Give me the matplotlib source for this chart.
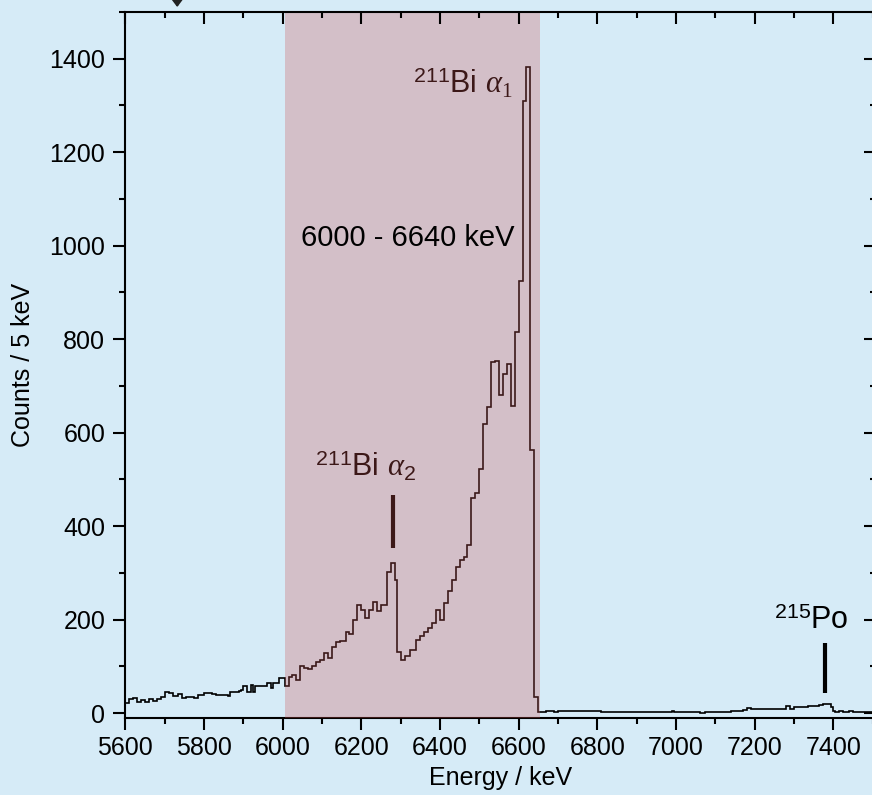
import matplotlib
matplotlib.use("Agg")
import matplotlib.pyplot as plt
import numpy as np
from matplotlib.ticker import MultipleLocator

plt.rcParams['font.family'] = ['Liberation Sans', 'DejaVu Sans']
plt.rcParams['mathtext.fontset'] = 'custom'
plt.rcParams['mathtext.rm'] = 'Liberation Serif'
plt.rcParams['mathtext.it'] = 'Liberation Serif:italic'
plt.rcParams['mathtext.sf'] = 'Liberation Sans'

# spectrum, 5 keV bins starting at 5600 keV (one row = 100 keV)
bin_start = 5600
bin_width = 5
counts = [
    21, 21, 30, 30, 33, 33, 24, 24, 28, 28, 24, 24, 31, 31, 25, 25, 31, 31, 35, 35,
    46, 46, 43, 43, 37, 37, 37, 40, 40, 32, 32, 35, 35, 34, 34, 32, 32, 38, 38, 38,
    42, 42, 42, 42, 40, 40, 39, 39, 39, 39, 38, 38, 37, 46, 46, 46, 46, 46, 48, 50,
    57, 57, 46, 46, 60, 46, 57, 57, 57, 57, 58, 58, 65, 65, 53, 64, 64, 64, 75, 75,
    75, 57, 57, 78, 78, 82, 82, 71, 71, 100, 100, 97, 97, 95, 95, 100, 100, 110, 110, 113,
    113, 128, 128, 118, 118, 142, 142, 153, 153, 155, 155, 155, 174, 174, 169, 169, 199, 199, 231, 231,
    220, 220, 203, 203, 220, 220, 238, 238, 218, 218, 231, 231, 231, 302, 302, 320, 320, 285, 131, 131,
    114, 114, 121, 121, 121, 135, 135, 135, 156, 156, 164, 164, 174, 174, 182, 182, 193, 193, 221, 221,
    199, 199, 235, 235, 260, 260, 285, 285, 313, 313, 327, 327, 334, 334, 359, 359, 459, 459, 470, 470,
    523, 523, 619, 619, 655, 655, 751, 751, 754, 754, 680, 680, 725, 725, 747, 747, 656, 656, 815, 815,
    925, 925, 1309, 1309, 1382, 1382, 562, 562, 35, 35, 3, 2, 2, 2, 5, 5, 5, 5, 3, 3,
    4, 4, 5, 5, 4, 4, 5, 5, 5, 5, 5, 5, 5, 5, 5, 5, 5, 5, 5, 5,
    4, 4, 3, 3, 2, 2, 2, 2, 2, 3, 3, 2, 2, 2, 2, 2, 2, 2, 2, 2,
    2, 2, 2, 2, 2, 2, 2, 2, 2, 2, 2, 2, 2, 2, 2, 2, 2, 3, 4, 3,
    3, 3, 3, 2, 3, 3, 2, 2, 2, 2, 2, 2, 1, 1, 1, 2, 2, 2, 2, 2,
    2, 3, 3, 3, 3, 3, 3, 3, 4, 4, 5, 5, 5, 5, 6, 6, 10, 10, 9, 9,
    9, 9, 9, 9, 9, 9, 9, 9, 9, 9, 9, 9, 9, 9, 9, 9, 16, 16, 9, 9,
    13, 13, 13, 13, 13, 13, 13, 15, 15, 15, 15, 15, 15, 18, 18, 19, 19, 20, 20, 12,
    5, 3, 3, 4, 4, 3, 3, 3, 4, 4, 3, 3, 2, 2, 3, 3, 2, 2, 3, 3,
    3, 3,
]
edges = bin_start + bin_width * np.arange(len(counts) + 1)

roi = [6005, 6655]
roi_label = "6000 - 6640 keV"

peak_labels = [r'$^{\mathsf{211}}$Bi $\alpha_1$', r'$^{\mathsf{211}}$Bi $\alpha_{\mathsf{2}}$', r'$^{\mathsf{215}}$Po']
peak_label_x = [6586, 6210, 7344]
peak_label_y = [1325, 505, 180]
peak_label_ha = ['right', 'center', 'center']
marker_x = [6280, 7378]
marker_lo = [354, 43]
marker_hi = [466, 150]

bg = '#D6EBF7'

fig = plt.figure(figsize=(8.72, 7.95), dpi=100, facecolor=bg)
ax = fig.add_axes([0.1437, 0.0972, 0.861, 0.888], facecolor=bg)

ax.stairs(counts, edges, baseline=None, color='black', lw=1.2, zorder=2)
ax.axvspan(roi[0], roi[1], color='#CF5656', alpha=0.29, lw=0, zorder=3)

ax.text(6319, 1000, roi_label, ha='center', va='baseline', fontsize=21, color='black', zorder=5)
for lab, x, y, ha in zip(peak_labels, peak_label_x, peak_label_y, peak_label_ha):
    ax.text(x, y, lab, ha=ha, va='baseline', fontsize=22, color='black', zorder=2)
ax.vlines(marker_x, marker_lo, marker_hi, color='black', lw=3, zorder=2)

# arrow coming in from above the frame (cut off)
ax.annotate('', xy=(5732, 1510), xytext=(5732, 1620),
            arrowprops=dict(arrowstyle='-|>,head_length=0.4,head_width=0.3',
                            color='#222222', lw=1.5, mutation_scale=20,
                            shrinkA=0, shrinkB=0),
            annotation_clip=False)

ax.set_xlim(5600, 7509)
ax.set_ylim(-10, 1500)
ax.xaxis.set_major_locator(MultipleLocator(200))
ax.xaxis.set_minor_locator(MultipleLocator(100))
ax.yaxis.set_major_locator(MultipleLocator(200))
ax.yaxis.set_minor_locator(MultipleLocator(100))

ax.tick_params(which='both', direction='out', top=False, right=False, width=1.5,
               labelsize=18)
ax.tick_params(which='major', length=8.5)
ax.tick_params(which='minor', length=4)
ax.tick_params(axis='x', pad=5)
ax.tick_params(axis='y', pad=6)
for s in ax.spines.values():
    s.set_linewidth(1.5)
ax.spines['top'].set_visible(False)
ax.spines['right'].set_visible(False)

top = ax.secondary_xaxis('top')
top.xaxis.set_major_locator(MultipleLocator(200))
top.xaxis.set_minor_locator(MultipleLocator(100))
top.tick_params(which='both', direction='in', labeltop=False, width=1.5)
top.tick_params(which='major', length=8.5)
top.tick_params(which='minor', length=4)
top.spines['top'].set_linewidth(1.5)
top.set_zorder(6)

right = ax.secondary_yaxis('right')
right.yaxis.set_major_locator(MultipleLocator(200))
right.yaxis.set_minor_locator(MultipleLocator(100))
right.tick_params(which='both', direction='in', labelright=False, width=1.5)
right.tick_params(which='major', length=8.5)
right.tick_params(which='minor', length=4)
right.spines['right'].set_linewidth(1.5)

ax.set_xlabel("Energy / keV", fontsize=18, labelpad=4)
ax.set_ylabel("Counts / 5 keV", fontsize=18, labelpad=10)

fig.savefig("out.png", dpi=100, facecolor=bg)
